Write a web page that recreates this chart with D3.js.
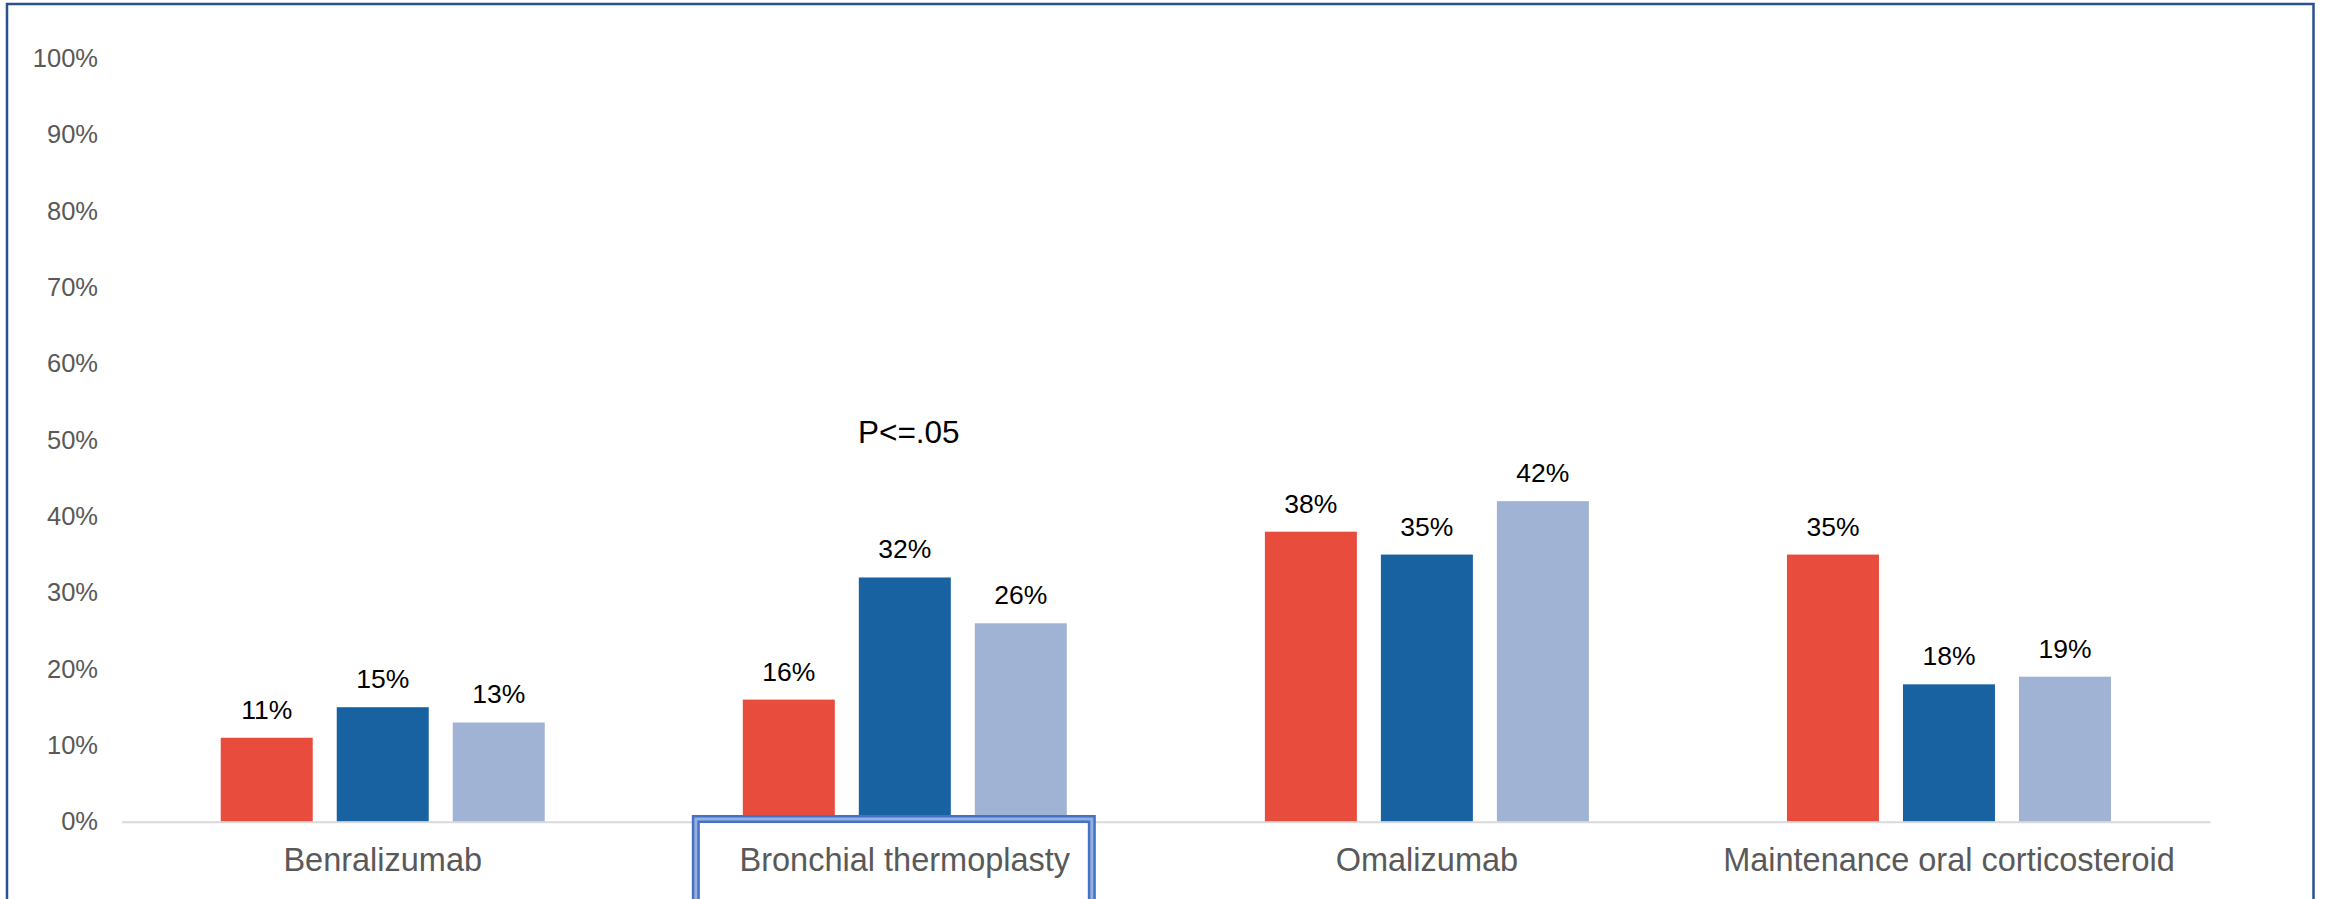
<!DOCTYPE html>
<html>
<head>
<meta charset="utf-8">
<script src="https://cdn.jsdelivr.net/npm/d3@7"></script>
<style>
  html, body { margin: 0; padding: 0; background: #ffffff; }
  svg { display: block; font-family: "Liberation Sans", Arial, Helvetica, sans-serif; }
</style>
</head>
<body>
<svg id="chart" width="2325" height="899"></svg>
<script>
// Treatment categories along the x axis
const categories = ["Benralizumab", "Bronchial thermoplasty", "Omalizumab", "Maintenance oral corticosteroid"];
// Three cohorts per category (share of patients, %)
const seriesNames = ["Group A", "Group B", "Group C"];
const groupA = [11, 16, 38, 35];
const groupB = [15, 32, 35, 18];
const groupC = [13, 26, 42, 19];
const yTicks = [0, 10, 20, 30, 40, 50, 60, 70, 80, 90, 100];
const highlighted = "Bronchial thermoplasty";
const note = { category: "Bronchial thermoplasty", level: 49.6, text: "P<=.05" };

const colors = ["#E84C3D", "#1862A1", "#A1B3D4"];
const seriesValues = [groupA, groupB, groupC];

const svg = d3.select("#chart");

// Frame around the chart
svg.append("path")
  .attr("d", "M7,900 L7,4 L2313.5,4 L2313.5,900")
  .attr("fill", "none")
  .attr("stroke", "#2A508E")
  .attr("stroke-width", 2.5);

const x0 = 121.7, x1 = 2210, yBase = 821.7, yTop = 58.5;

const x = d3.scaleBand().domain(categories).range([x0, x1]).padding(0);
const inner = d3.scaleBand().domain(seriesNames).range([-162, 162]).paddingInner(0.207).paddingOuter(0);
const y = d3.scaleLinear().domain([0, 100]).range([yBase, yTop]);

// Y axis labels
const yAxis = d3.axisLeft(y).tickValues(yTicks).tickFormat(d => d + "%").tickSize(0).tickPadding(0);
const yg = svg.append("g").attr("transform", "translate(98,0)").call(yAxis);
yg.select(".domain").remove();
yg.selectAll("text")
  .attr("fill", "#595959")
  .style("font-size", "25.5px")
  .style("font-family", "'Liberation Sans', Arial, sans-serif");

// Bars
const rows = categories.map((c, i) => ({ c, vals: seriesNames.map((s, j) => ({ s, v: seriesValues[j][i], j })) }));

const groups = svg.append("g").selectAll("g").data(rows).join("g")
  .attr("transform", d => `translate(${x(d.c) + x.bandwidth() / 2},0)`);

groups.selectAll("rect").data(d => d.vals).join("rect")
  .attr("x", d => inner(d.s))
  .attr("width", inner.bandwidth())
  .attr("y", d => y(d.v))
  .attr("height", d => yBase - y(d.v))
  .attr("fill", d => colors[d.j]);

groups.selectAll("text.val").data(d => d.vals).join("text")
  .attr("class", "val")
  .attr("x", d => inner(d.s) + inner.bandwidth() / 2)
  .attr("y", d => y(d.v) - 19)
  .attr("text-anchor", "middle")
  .attr("fill", "#000000")
  .style("font-size", "26.5px")
  .text(d => d.v + "%");

// Baseline axis
const xAxis = d3.axisBottom(x).tickSize(0).tickPadding(0);
const xg = svg.append("g").attr("transform", `translate(0,${yBase})`).call(xAxis);
xg.select(".domain").attr("stroke", "#D9D9D9").attr("stroke-width", 2);
xg.selectAll("text")
  .attr("dy", null)
  .attr("y", 49)
  .attr("fill", "#595959")
  .style("font-size", "32.5px")
  .style("font-family", "'Liberation Sans', Arial, sans-serif");

// Double-line box around the highlighted category label
const hc = x(highlighted) + x.bandwidth() / 2;
const box = svg.append("g");
box.append("rect")
  .attr("x", hc - 209).attr("y", 819)
  .attr("width", 396).attr("height", 100)
  .attr("fill", "none").attr("stroke", "#4472C4").attr("stroke-width", 8);
box.append("rect")
  .attr("x", hc - 209).attr("y", 819)
  .attr("width", 396).attr("height", 100)
  .attr("fill", "none").attr("stroke", "#97AEE0").attr("stroke-width", 3);

// Significance note
svg.append("text")
  .attr("x", x(note.category) + x.bandwidth() / 2 + 4)
  .attr("y", y(note.level))
  .attr("text-anchor", "middle")
  .attr("fill", "#000000")
  .style("font-size", "31.5px")
  .text(note.text);
</script>
</body>
</html>
